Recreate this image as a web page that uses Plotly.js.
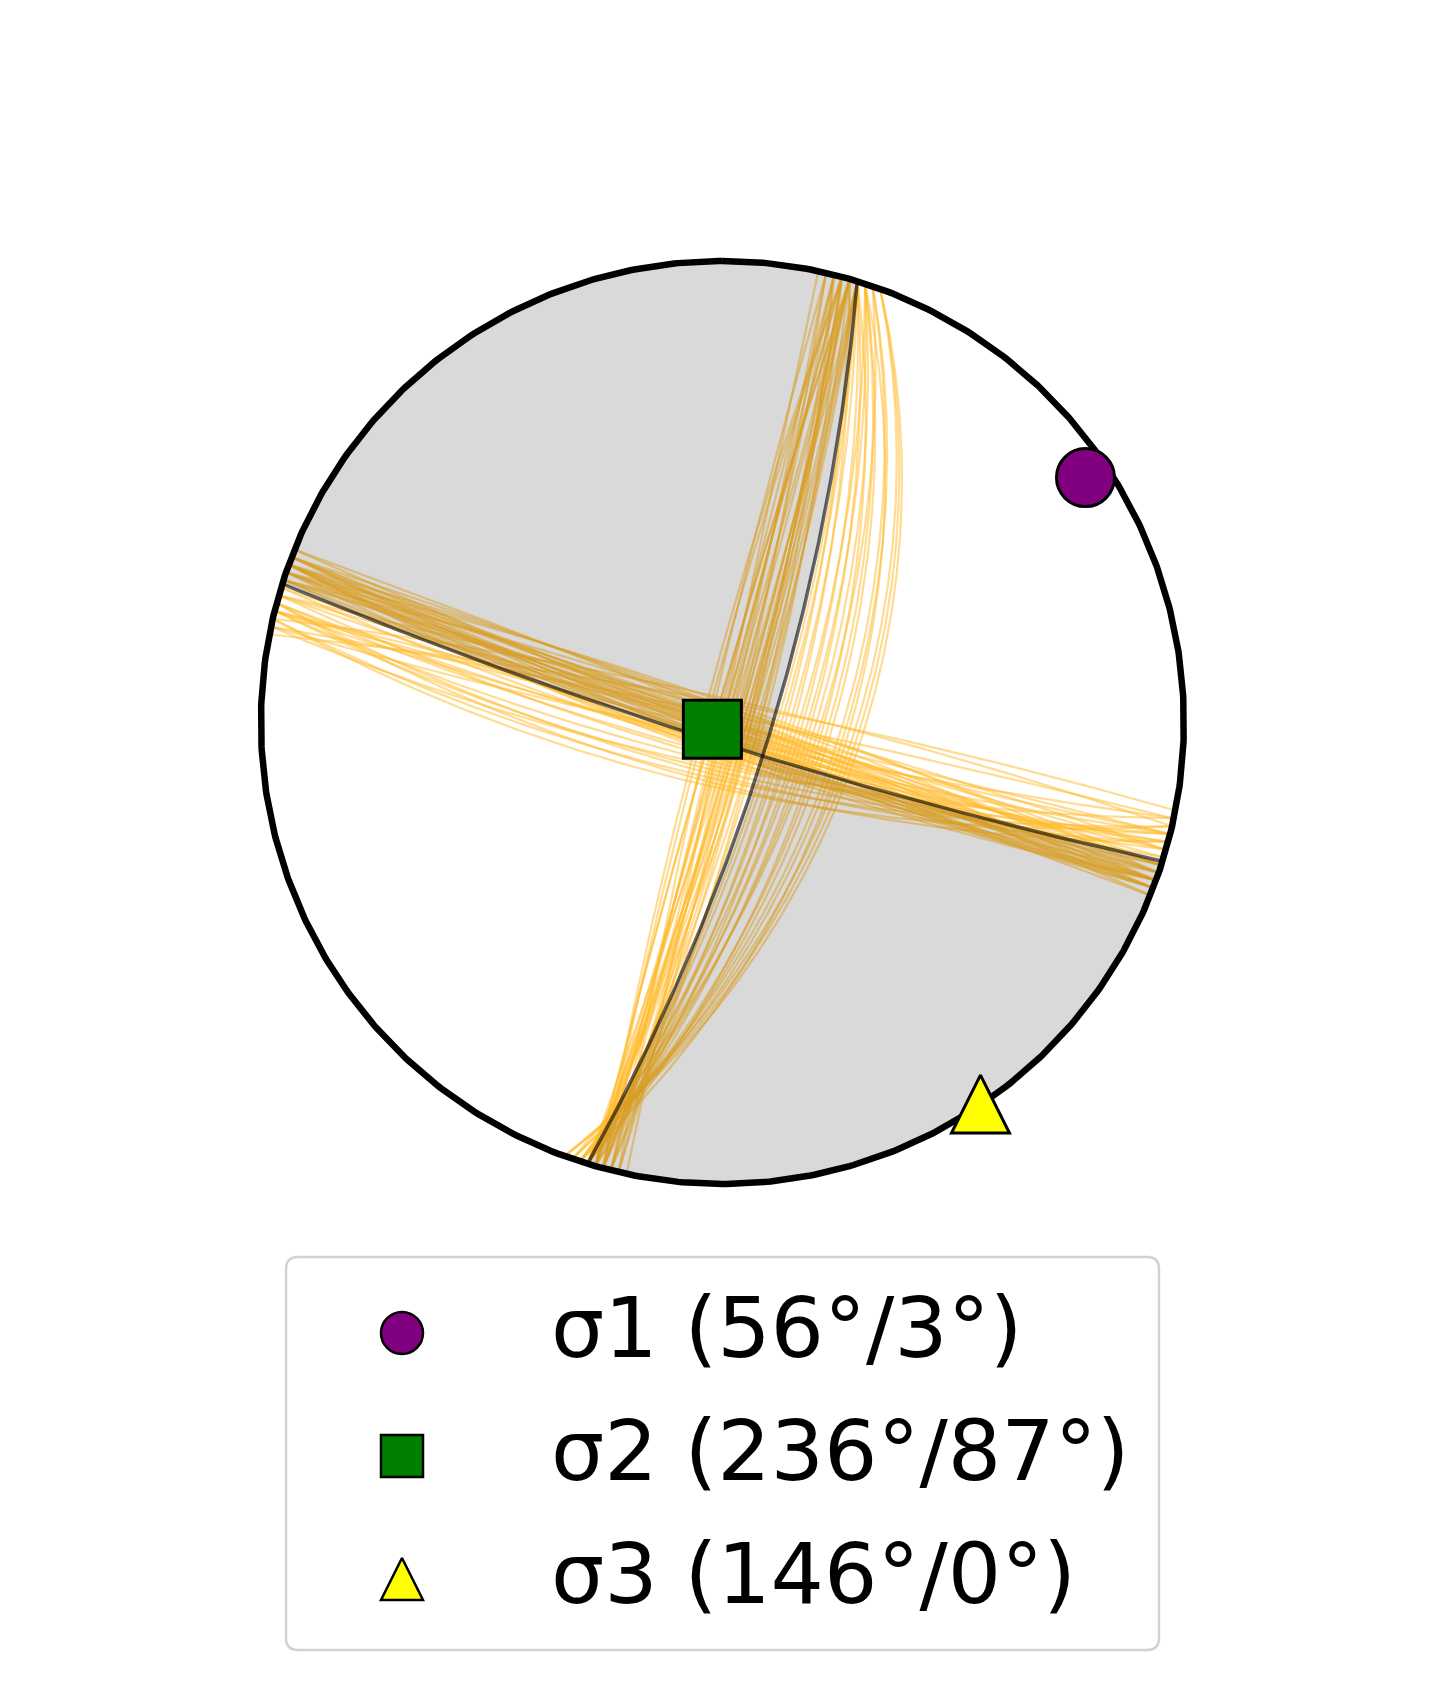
<!DOCTYPE html>
<html><head><meta charset="utf-8">
<script src="https://cdn.plot.ly/plotly-3.0.1.min.js"></script>
<style>html,body{margin:0;padding:0;background:#fff;}#chart{width:1446px;height:1681px;}</style>
</head><body><div id="chart"></div>
<script>
// Nodal planes (strike, dip; right-hand rule)
const planeStrikes = [17, 107.5];
const planeDips = [78, 85];

// Uncertainty solutions around nodal plane 1 (strike, dip)
const unc1Strikes = [15,16,14,17,15,13,16,17,14,15,16,12,17,15,14,16,17,15,13,16,15,14,15,16,16,15,14,17,16,13,
                     17,18,17,19,17,18,20,16,18,20,18,17,19,16,18,17,19,18,20,17];
const unc1Dips    = [84,88,87,82,90,88,92,85,83,94,81,90,87,83,91,86,83,80,86,89,95,89,84,86,85,90,81,84,92,93,
                     74,68,77,62,71,65,59,75,70,57,72,66,61,73,64,76,67,60,58,69];

// Uncertainty solutions around nodal plane 2 (strike, dip)
const unc2Strikes = [109,110,108,111,111,109,110,111,108,110,109,112,110,108,111,109,110,111,108,110,110,109,111,108,112,110,109,110,
                     104,105,103,106,102,104,107,105,101,103,106,104,102,105,107,103,106,104,105,102,106,104];
const unc2Dips    = [88,85,90,86,89,92,84,87,94,91,83,88,90,86,93,89,82,85,91,87,94,86,90,84,92,88,95,83,
                     80,84,76,86,92,78,88,82,95,74,90,85,79,77,83,96,81,88,75,86,93,90];

// Principal stress axes
const stressNames = ['σ1', 'σ2', 'σ3'];
const stressTrends = [56, 236, 146];
const stressPlunges = [3, 87, 0];
const stressColors = ['#800080', '#008000', '#ffff00'];
const stressSymbols = ['circle', 'square', 'arrow-up'];

// ---------- geometry ----------
const W = 1446, H = 1681, CX = 722.4, CY = 722.5, R = 461.5, HALF = 500;
const D2R = Math.PI / 180;
function planeVecs(strike, dip) {
  const f = strike * D2R, d = dip * D2R;
  return { s: [Math.cos(f), Math.sin(f), 0],
           dv: [-Math.cos(d) * Math.sin(f), Math.cos(d) * Math.cos(f), Math.sin(d)] };
}
function vecAt(p, t) { return [0, 1, 2].map(i => Math.cos(t) * p.s[i] + Math.sin(t) * p.dv[i]); }
function dot(a, b) { return a[0]*b[0] + a[1]*b[1] + a[2]*b[2]; }
function cross(a, b) { return [a[1]*b[2]-a[2]*b[1], a[2]*b[0]-a[0]*b[2], a[0]*b[1]-a[1]*b[0]]; }
function projVec(v) {
  let [n, e, dn] = v;
  if (dn < 0) { n = -n; e = -e; dn = -dn; }
  const plunge = Math.asin(Math.min(1, dn));
  const trend = Math.atan2(e, n);
  const r = Math.tan(Math.PI / 4 - plunge / 2);
  return [r * Math.sin(trend), r * Math.cos(trend)];
}
function projTP(trend, plunge) {
  const r = Math.tan((90 - plunge) * D2R / 2);
  return [r * Math.sin(trend * D2R), r * Math.cos(trend * D2R)];
}
function planeArc(p, t0, t1, n) {
  const xs = [], ys = [];
  for (let i = 0; i <= n; i++) {
    const t = t0 + (t1 - t0) * i / n;
    const q = projVec(vecAt(p, t));
    xs.push(q[0]); ys.push(q[1]);
  }
  return [xs, ys];
}
function primArc(a0, a1, n) {
  const xs = [], ys = [];
  for (let i = 0; i <= n; i++) {
    const a = (a0 + (a1 - a0) * i / n) * D2R;
    xs.push(Math.sin(a)); ys.push(Math.cos(a));
  }
  return [xs, ys];
}
function multiPlane(strikes, dips) {
  const xs = [], ys = [];
  strikes.forEach((s, i) => {
    const [ax, ay] = planeArc(planeVecs(s, dips[i]), 0, Math.PI, 180);
    xs.push(...ax, null); ys.push(...ay, null);
  });
  return [xs, ys];
}

const P1 = planeVecs(planeStrikes[0], planeDips[0]);
const P2 = planeVecs(planeStrikes[1], planeDips[1]);
const n1 = cross(P1.s, P1.dv), n2 = cross(P2.s, P2.dv);
let B = cross(n1, n2);
const bl = Math.sqrt(dot(B, B)); B = B.map(c => c / bl);
if (B[2] < 0) B = B.map(c => -c);
const tB1 = Math.atan2(dot(B, P1.dv), dot(B, P1.s));
const tB2 = Math.atan2(dot(B, P2.dv), dot(B, P2.s));

function concat(parts) { const xs = [], ys = []; parts.forEach(p => { xs.push(...p[0]); ys.push(...p[1]); }); return [xs, ys]; }
// shaded quadrants (NW and SE), bounded by the primitive and both nodal planes
const quadA = concat([
  primArc(planeStrikes[1] + 180, planeStrikes[0] + 360, 200),
  planeArc(P1, 0, tB1, 200),
  planeArc(P2, tB2, Math.PI, 200)
]);
const quadB = concat([
  primArc(planeStrikes[1], planeStrikes[0] + 180, 200),
  planeArc(P1, Math.PI, tB1, 200),
  planeArc(P2, tB2, 0, 200)
]);

const u1 = multiPlane(unc1Strikes, unc1Dips);
const u2 = multiPlane(unc2Strikes, unc2Dips);
const np = multiPlane(planeStrikes, planeDips);
const prim = primArc(0, 360, 720);

const orange = 'rgba(255,186,40,0.5)';
const traces = [
  { x: u1[0], y: u1[1], mode: 'lines', line: { color: orange, width: 2.2 }, hoverinfo: 'skip' },
  { x: u2[0], y: u2[1], mode: 'lines', line: { color: orange, width: 2.2 }, hoverinfo: 'skip' },
  { x: quadA[0], y: quadA[1], mode: 'lines', fill: 'toself', fillcolor: 'rgba(0,0,0,0.15)', line: { width: 0, color: 'rgba(0,0,0,0)' }, hoverinfo: 'skip' },
  { x: quadB[0], y: quadB[1], mode: 'lines', fill: 'toself', fillcolor: 'rgba(0,0,0,0.15)', line: { width: 0, color: 'rgba(0,0,0,0)' }, hoverinfo: 'skip' },
  { x: np[0], y: np[1], mode: 'lines', line: { color: 'rgba(0,0,0,0.6)', width: 3.5 }, hoverinfo: 'skip' },
  { x: prim[0], y: prim[1], mode: 'lines', line: { color: '#000', width: 6.5 }, hoverinfo: 'skip' }
];

// stress axis markers
const MS = 58;
const sx = [], sy = [];
stressTrends.forEach((t, i) => {
  const q = projTP(t, stressPlunges[i]);
  sx.push(q[0]);
  // arrow-up symbol has its apex on the point: shift so the triangle is centred
  sy.push(stressSymbols[i] === 'arrow-up' ? q[1] + (MS / 2 + 1) / R : q[1]);
});
traces.push({ x: sx, y: sy, mode: 'markers', cliponaxis: false, hoverinfo: 'skip',
  marker: { symbol: stressSymbols, size: MS, color: stressColors, line: { color: '#000', width: 3 } } });

// legend (drawn in pixel coordinates on a second axis pair)
const LX0 = 286, LY0 = 1257, LX1 = 1159, LY1 = 1650, LR = 12;
const legMarkX = 402, legRow0 = 1333, legRowStep = 123, legTextX = 549, LMS = 42;
const lx = [], ly = [];
stressNames.forEach((n, i) => {
  lx.push(legMarkX);
  const yc = legRow0 + i * legRowStep;
  ly.push(stressSymbols[i] === 'arrow-up' ? yc - LMS / 2 : yc);
});
traces.push({ x: lx, y: ly, xaxis: 'x2', yaxis: 'y2', mode: 'markers', cliponaxis: false, hoverinfo: 'skip',
  marker: { symbol: stressSymbols, size: LMS, color: stressColors, line: { color: '#000', width: 2.5 } } });

const annotations = stressNames.map((n, i) => ({
  xref: 'x2', yref: 'y2', x: legTextX, y: legRow0 + i * legRowStep - 5,
  xanchor: 'left', yanchor: 'middle', showarrow: false,
  text: `${n} (${stressTrends[i]}°/${stressPlunges[i]}°)`,
  font: { family: 'DejaVu Sans', size: 84, color: '#000' }
}));

const boxPath = `M ${LX0 + LR},${LY0} L ${LX1 - LR},${LY0} Q ${LX1},${LY0} ${LX1},${LY0 + LR} L ${LX1},${LY1 - LR} Q ${LX1},${LY1} ${LX1 - LR},${LY1} L ${LX0 + LR},${LY1} Q ${LX0},${LY1} ${LX0},${LY1 - LR} L ${LX0},${LY0 + LR} Q ${LX0},${LY0} ${LX0 + LR},${LY0} Z`;

const layout = {
  width: W, height: H, margin: { l: 0, r: 0, t: 0, b: 0 },
  paper_bgcolor: '#ffffff', plot_bgcolor: 'rgba(0,0,0,0)', showlegend: false,
  xaxis: { domain: [(CX - HALF) / W, (CX + HALF) / W], range: [-HALF / R, HALF / R], visible: false, fixedrange: true },
  yaxis: { domain: [1 - (CY + HALF) / H, 1 - (CY - HALF) / H], range: [-HALF / R, HALF / R], visible: false, fixedrange: true },
  xaxis2: { domain: [0, 1], range: [0, W], visible: false, anchor: 'y2', fixedrange: true },
  yaxis2: { domain: [0, 1], range: [H, 0], visible: false, anchor: 'x2', fixedrange: true },
  shapes: [{ type: 'path', xref: 'x2', yref: 'y2', path: boxPath, fillcolor: '#ffffff', layer: 'below',
             line: { color: '#d2d2d2', width: 2.5 } }],
  annotations: annotations,
  font: { family: 'DejaVu Sans' }
};

Plotly.newPlot('chart', traces, layout, { displayModeBar: false, staticPlot: true });
</script></body></html>
